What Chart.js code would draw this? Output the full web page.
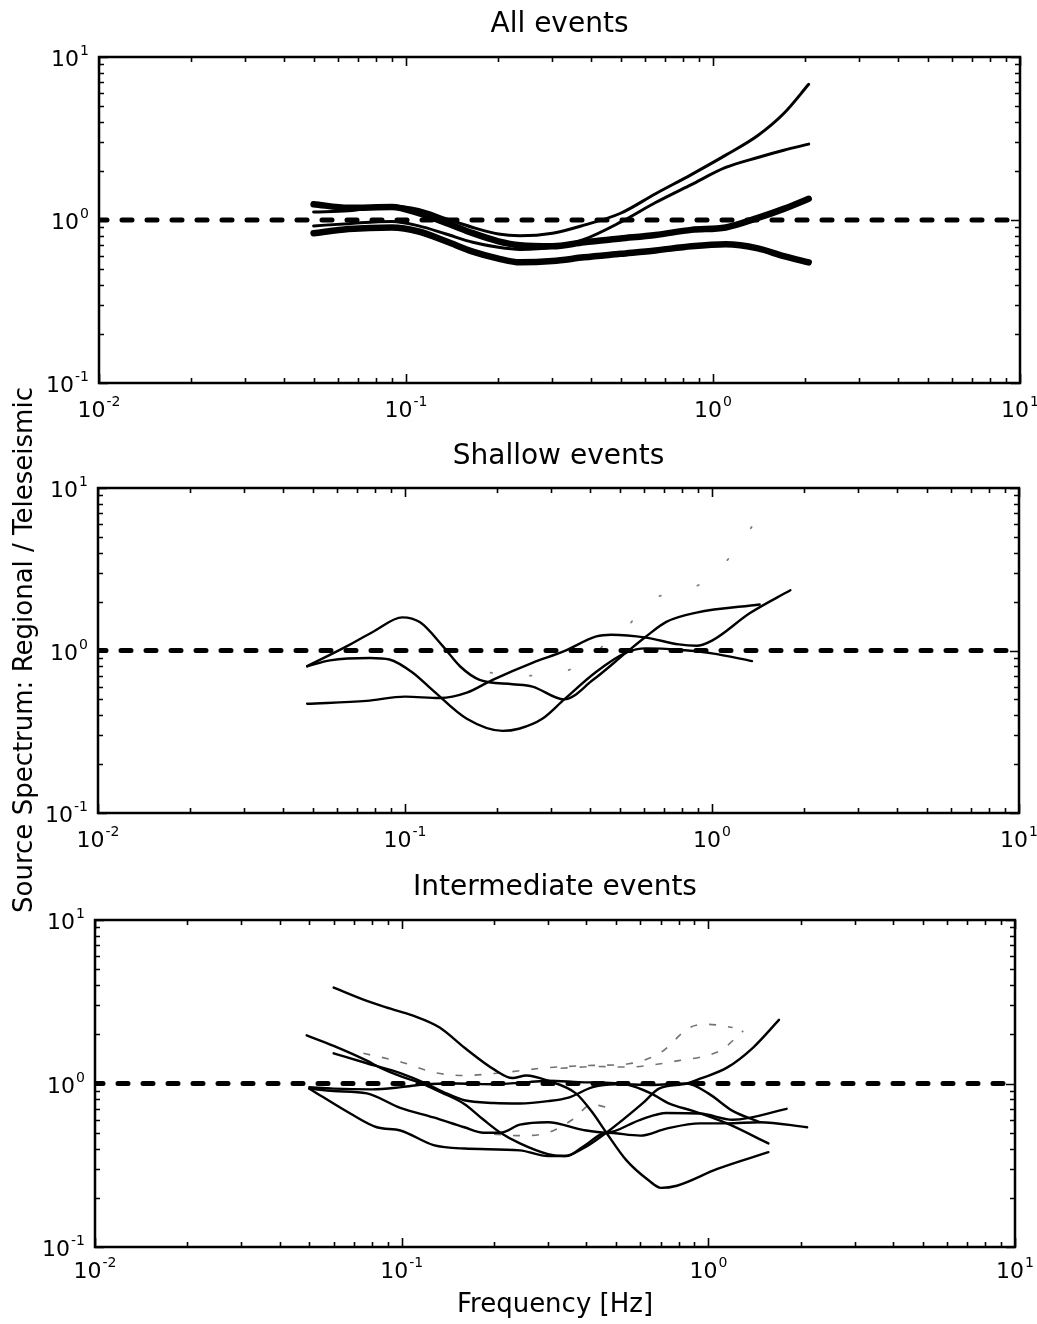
<!DOCTYPE html>
<html>
<head>
<meta charset="utf-8">
<title>Source spectrum ratio</title>
<script src="https://cdn.jsdelivr.net/npm/chart.js@4.4.0/dist/chart.umd.min.js"></script>
<style>
  body { margin: 0; background: #fff; }
  #page { position: relative; width: 1037px; height: 1324px; overflow: hidden; background: #fff; }
  .panel { position: absolute; left: 0; }
  #ylabel {
    position: absolute;
    width: 700px; height: 30px; line-height: 30px;
    left: -327px; top: 635px;
    text-align: center;
    font-family: 'DejaVu Sans', sans-serif;
    font-size: 26px;
    color: #000;
    transform: rotate(-90deg);
    transform-origin: 50% 50%;
    white-space: nowrap;
  }
</style>
</head>
<body>
<div id="page">
  <canvas id="allChart" class="panel" width="1037" height="430" style="top:0"></canvas>
  <canvas id="shallowChart" class="panel" width="1037" height="430" style="top:430px"></canvas>
  <canvas id="intChart" class="panel" width="1037" height="464" style="top:860px"></canvas>
  <div id="ylabel">Source Spectrum: Regional / Teleseismic</div>
</div>
<script>
// axis ticks: decades, labelled as 10 with an exponent
const xTickVals = [0.01, 0.1, 1, 10];
const xTickExp = ['-2', '-1', '0', '1'];
const yTickVals = [0.1, 1, 10];
const yTickExp = ['-1', '0', '1'];

// ratio = 1 reference
const refFreq = [0.01, 10];
const refLevel = [1, 1];

// All events (two thick, two thin curves)
const allFreq = [0.05, 0.065, 0.09, 0.11, 0.135, 0.165, 0.2, 0.235, 0.3, 0.38, 0.5, 0.65, 0.85, 1.1, 1.4, 1.7, 2.05];
const allThickUpper = [1.25, 1.19, 1.2, 1.1, 0.96, 0.83, 0.74, 0.7, 0.69, 0.73, 0.77, 0.81, 0.87, 0.9, 1.03, 1.17, 1.35];
const allThinUpper = [1.12, 1.14, 1.22, 1.16, 1.02, 0.9, 0.82, 0.8, 0.83, 0.93, 1.1, 1.45, 1.9, 2.5, 3.3, 4.5, 6.8];
const allThinLower = [0.92, 0.95, 0.98, 0.92, 0.82, 0.73, 0.68, 0.66, 0.68, 0.76, 0.97, 1.28, 1.65, 2.1, 2.42, 2.68, 2.92];
const allThickLower = [0.83, 0.88, 0.9, 0.85, 0.74, 0.64, 0.58, 0.55, 0.56, 0.59, 0.62, 0.65, 0.69, 0.71, 0.67, 0.6, 0.55];

// Shallow events
const shallowFreqA = [0.048, 0.0645, 0.079, 0.098, 0.112, 0.133, 0.151, 0.175, 0.224, 0.26, 0.33, 0.41, 0.525, 0.61, 0.71, 0.89, 1.43];
const shallowValsA = [0.8, 1.06, 1.31, 1.6, 1.49, 1.06, 0.8, 0.66, 0.62, 0.6, 0.5, 0.66, 0.97, 1.22, 1.5, 1.71, 1.92];
const shallowFreqB = [0.048, 0.057, 0.077, 0.089, 0.106, 0.123, 0.159, 0.208, 0.235, 0.28, 0.33, 0.42, 0.525, 0.61, 0.78, 1.0, 1.35];
const shallowValsB = [0.8, 0.87, 0.9, 0.88, 0.73, 0.57, 0.38, 0.32, 0.33, 0.38, 0.5, 0.74, 0.97, 1.03, 1.01, 0.96, 0.86];
const shallowFreqC = [0.048, 0.075, 0.1, 0.13, 0.159, 0.193, 0.26, 0.33, 0.42, 0.47, 0.61, 0.78, 0.89, 1.0, 1.33, 1.8];
const shallowValsC = [0.47, 0.49, 0.52, 0.51, 0.55, 0.66, 0.84, 0.99, 1.22, 1.25, 1.2, 1.09, 1.07, 1.15, 1.7, 2.35];
const shallowFreqFaint = [0.19, 0.26, 0.33, 0.4, 0.46, 0.53, 0.61, 0.75, 0.93, 1.15, 1.43];
const shallowValsFaint = [0.73, 0.7, 0.74, 0.9, 1.15, 1.4, 1.95, 2.3, 2.6, 3.8, 6.8];

// Intermediate events
const intFreq1 = [0.06, 0.077, 0.089, 0.109, 0.133, 0.16, 0.2, 0.23, 0.255, 0.3, 0.37, 0.42, 0.465, 0.54, 0.64, 0.7, 0.79, 1.07, 1.57];
const intVals1 = [3.86, 3.2, 2.92, 2.6, 2.2, 1.66, 1.22, 1.08, 1.12, 1.04, 0.87, 0.66, 0.5, 0.34, 0.255, 0.23, 0.237, 0.3, 0.38];
const intFreq2 = [0.049, 0.06, 0.077, 0.085, 0.1, 0.115, 0.135, 0.16, 0.185, 0.21, 0.243, 0.3, 0.34, 0.39, 0.465, 0.61, 0.69, 0.85, 0.94, 1.15, 1.4, 1.7];
const intVals2 = [1.97, 1.7, 1.38, 1.25, 1.1, 1.01, 0.88, 0.75, 0.6, 0.5, 0.43, 0.37, 0.36, 0.4, 0.5, 0.755, 0.93, 1.0, 1.07, 1.25, 1.66, 2.45];
const intFreq3 = [0.06, 0.077, 0.1, 0.12, 0.14, 0.16, 0.2, 0.243, 0.3, 0.35, 0.42, 0.5, 0.65, 0.85, 1.0, 1.2, 1.47];
const intVals3 = [1.53, 1.33, 1.15, 1.0, 0.87, 0.79, 0.76, 0.755, 0.78, 0.82, 0.95, 0.99, 0.98, 1.0, 0.87, 0.68, 0.58];
const intFreq4 = [0.05, 0.06, 0.08, 0.1, 0.12, 0.15, 0.2, 0.26, 0.3, 0.38, 0.46, 0.54, 0.65, 0.75, 0.89, 1.15, 1.57];
const intVals4 = [0.95, 0.93, 0.92, 0.95, 0.99, 1.0, 0.99, 1.02, 1.04, 1.02, 1.01, 0.99, 0.87, 0.75, 0.68, 0.57, 0.43];
const intFreq5 = [0.05, 0.06, 0.077, 0.099, 0.127, 0.16, 0.185, 0.21, 0.243, 0.3, 0.39, 0.465, 0.6, 0.73, 0.94, 1.2, 1.8];
const intVals5 = [0.93, 0.9, 0.87, 0.71, 0.62, 0.54, 0.5, 0.5, 0.56, 0.58, 0.52, 0.5, 0.6, 0.66, 0.655, 0.6, 0.7];
const intFreq6 = [0.05, 0.068, 0.083, 0.099, 0.127, 0.16, 0.243, 0.3, 0.344, 0.39, 0.465, 0.6, 0.73, 0.94, 1.15, 1.47, 2.1];
const intVals6 = [0.93, 0.655, 0.54, 0.516, 0.42, 0.4, 0.39, 0.36, 0.36, 0.41, 0.5, 0.48, 0.53, 0.57, 0.57, 0.58, 0.54];
// faint dashed traces
const intFreqF1 = [0.075, 0.1, 0.127, 0.16, 0.2, 0.3, 0.42, 0.55, 0.7, 0.87, 1.0, 1.2];
const intValsF1 = [1.53, 1.35, 1.17, 1.12, 1.15, 1.25, 1.29, 1.32, 1.55, 2.2, 2.3, 2.2];
const intFreqF2 = [0.33, 0.43, 0.55, 0.66, 0.8, 0.94, 1.1, 1.3];
const intValsF2 = [1.24, 1.27, 1.26, 1.3, 1.38, 1.45, 1.6, 2.1];
const intFreqF3 = [0.2, 0.243, 0.3, 0.36, 0.42, 0.46, 0.5];
const intValsF3 = [0.49, 0.48, 0.5, 0.6, 0.75, 0.72, 0.76];

const FONT = "'DejaVu Sans', sans-serif";
Chart.defaults.font.family = FONT;
Chart.defaults.color = '#000';

function pts(freq, vals) {
  return freq.map((f, i) => ({ x: f, y: vals[i] }));
}

function curve(freq, vals, width, extra) {
  return Object.assign({
    data: pts(freq, vals),
    borderColor: '#000',
    borderWidth: width,
    borderCapStyle: 'round',
    borderJoinStyle: 'round',
    pointRadius: 0,
    cubicInterpolationMode: 'monotone',
    fill: false
  }, extra || {});
}

function refLine() {
  return {
    data: pts(refFreq, refLevel),
    borderColor: '#000',
    borderWidth: 5,
    borderDash: [10, 15],
    borderDashOffset: 2,
    borderCapStyle: 'round',
    pointRadius: 0,
    fill: false
  };
}

// box frame with inward ticks on all four sides (decades long, 2..9 short)
function logSteps(lo, hi) {
  const out = [];
  for (let d = lo; d < hi * 0.999; d *= 10) {
    for (let k = 1; k <= 9; k++) out.push({ v: d * k, major: k === 1 });
  }
  out.push({ v: hi, major: true });
  return out;
}

const frameTicks = {
  id: 'frameTicks',
  afterDraw(chart) {
    const { ctx, chartArea: a, scales } = chart;
    const sx = scales.x, sy = scales.y;
    ctx.save();
    ctx.strokeStyle = '#000';
    ctx.lineWidth = 1.6;
    ctx.beginPath();
    logSteps(0.01, 10).forEach(t => {
      const px = Math.round(sx.getPixelForValue(t.v)) + 0.5;
      const len = t.major ? 9 : 5;
      ctx.moveTo(px, a.bottom); ctx.lineTo(px, a.bottom - len);
      ctx.moveTo(px, a.top); ctx.lineTo(px, a.top + len);
    });
    logSteps(0.1, 10).forEach(t => {
      const py = Math.round(sy.getPixelForValue(t.v)) + 0.5;
      const len = t.major ? 9 : 5;
      ctx.moveTo(a.left, py); ctx.lineTo(a.left + len, py);
      ctx.moveTo(a.right, py); ctx.lineTo(a.right - len, py);
    });
    ctx.stroke();
    ctx.lineWidth = 2.5;
    ctx.strokeRect(a.left, a.top, a.right - a.left, a.bottom - a.top);
    ctx.restore();
  }
};

// "10" with a raised exponent; anchor is the baseline of "10"
function drawPower(ctx, exp, x, baseY, align) {
  ctx.font = '22px ' + FONT;
  const wBase = ctx.measureText('10').width;
  ctx.font = '14px ' + FONT;
  const wExp = ctx.measureText(exp).width;
  const total = wBase + 1 + wExp;
  const left = align === 'right' ? x - total : x - total / 2;
  ctx.textAlign = 'left';
  ctx.textBaseline = 'alphabetic';
  ctx.font = '22px ' + FONT;
  ctx.fillText('10', left, baseY);
  ctx.font = '14px ' + FONT;
  ctx.fillText(exp, left + wBase + 1, baseY - 11);
}

const powerLabels = {
  id: 'powerLabels',
  afterDraw(chart, args, opts) {
    const { ctx, chartArea: a, scales } = chart;
    ctx.save();
    ctx.fillStyle = '#000';
    xTickVals.forEach((v, i) => {
      drawPower(ctx, xTickExp[i], scales.x.getPixelForValue(v), a.bottom + opts.xGap, 'center');
    });
    yTickVals.forEach((v, i) => {
      drawPower(ctx, yTickExp[i], a.left - 10, scales.y.getPixelForValue(v) + 9, 'right');
    });
    ctx.restore();
  }
};

function makePanel(id, opts) {
  const xScale = {
    type: 'logarithmic',
    min: 0.01,
    max: 10,
    grid: { display: false },
    border: { display: false },
    ticks: { display: false },
    afterFit: s => { s.height = opts.xHeight; s.paddingLeft = 0; s.paddingRight = 0; }
  };
  if (opts.xTitle) {
    xScale.title = {
      display: true,
      text: opts.xTitle,
      font: { size: 26 },
      color: '#000',
      padding: { top: 0, bottom: 3 }
    };
  }
  return new Chart(document.getElementById(id), {
    type: 'line',
    data: { datasets: [refLine()].concat(opts.datasets) },
    options: {
      responsive: false,
      animation: false,
      events: [],
      layout: { padding: { left: 0, right: opts.padRight, top: 0, bottom: 0 } },
      plugins: {
        legend: { display: false },
        tooltip: { enabled: false },
        title: {
          display: true,
          text: opts.title,
          fullSize: false,
          font: { size: 28, weight: 'normal' },
          color: '#000',
          padding: opts.titlePad
        },
        powerLabels: { xGap: opts.xGap }
      },
      scales: {
        x: xScale,
        y: {
          type: 'logarithmic',
          min: 0.1,
          max: 10,
          grid: { display: false },
          border: { display: false },
          ticks: { display: false },
          afterFit: s => { s.width = opts.yWidth; s.paddingTop = 0; s.paddingBottom = 0; }
        }
      }
    },
    plugins: [frameTicks, powerLabels]
  });
}

const faintDots = { borderColor: 'rgba(0,0,0,0.5)', borderDash: [1.5, 38], borderWidth: 1.8 };
const faintDash = { borderColor: 'rgba(0,0,0,0.55)', borderDash: [7, 12], borderWidth: 1.6, borderCapStyle: 'butt' };

makePanel('allChart', {
  title: 'All events',
  titlePad: { top: 8.2, bottom: 15.2 },
  xHeight: 47,
  xGap: 34,
  yWidth: 99,
  padRight: 17,
  datasets: [
    curve(allFreq, allThickUpper, 6.5),
    curve(allFreq, allThinUpper, 3),
    curve(allFreq, allThinLower, 3),
    curve(allFreq, allThickLower, 6.5)
  ]
});

makePanel('shallowChart', {
  title: 'Shallow events',
  titlePad: { top: 10, bottom: 14.4 },
  xHeight: 47,
  xGap: 34,
  yWidth: 98,
  padRight: 18,
  datasets: [
    curve(shallowFreqA, shallowValsA, 2.4),
    curve(shallowFreqB, shallowValsB, 2.4),
    curve(shallowFreqC, shallowValsC, 2.4),
    curve(shallowFreqFaint, shallowValsFaint, 1.8, faintDots)
  ]
});

makePanel('intChart', {
  title: 'Intermediate events',
  titlePad: { top: 11.2, bottom: 15.2 },
  xHeight: 77,
  xGap: 31,
  yWidth: 95,
  padRight: 22,
  xTitle: 'Frequency [Hz]',
  datasets: [
    curve(intFreq1, intVals1, 2.4),
    curve(intFreq2, intVals2, 2.4),
    curve(intFreq3, intVals3, 2.4),
    curve(intFreq4, intVals4, 2.4),
    curve(intFreq5, intVals5, 2.4),
    curve(intFreq6, intVals6, 2.4),
    curve(intFreqF1, intValsF1, 1.6, faintDash),
    curve(intFreqF2, intValsF2, 1.6, faintDash),
    curve(intFreqF3, intValsF3, 1.6, faintDash)
  ]
});
</script>
</body>
</html>
